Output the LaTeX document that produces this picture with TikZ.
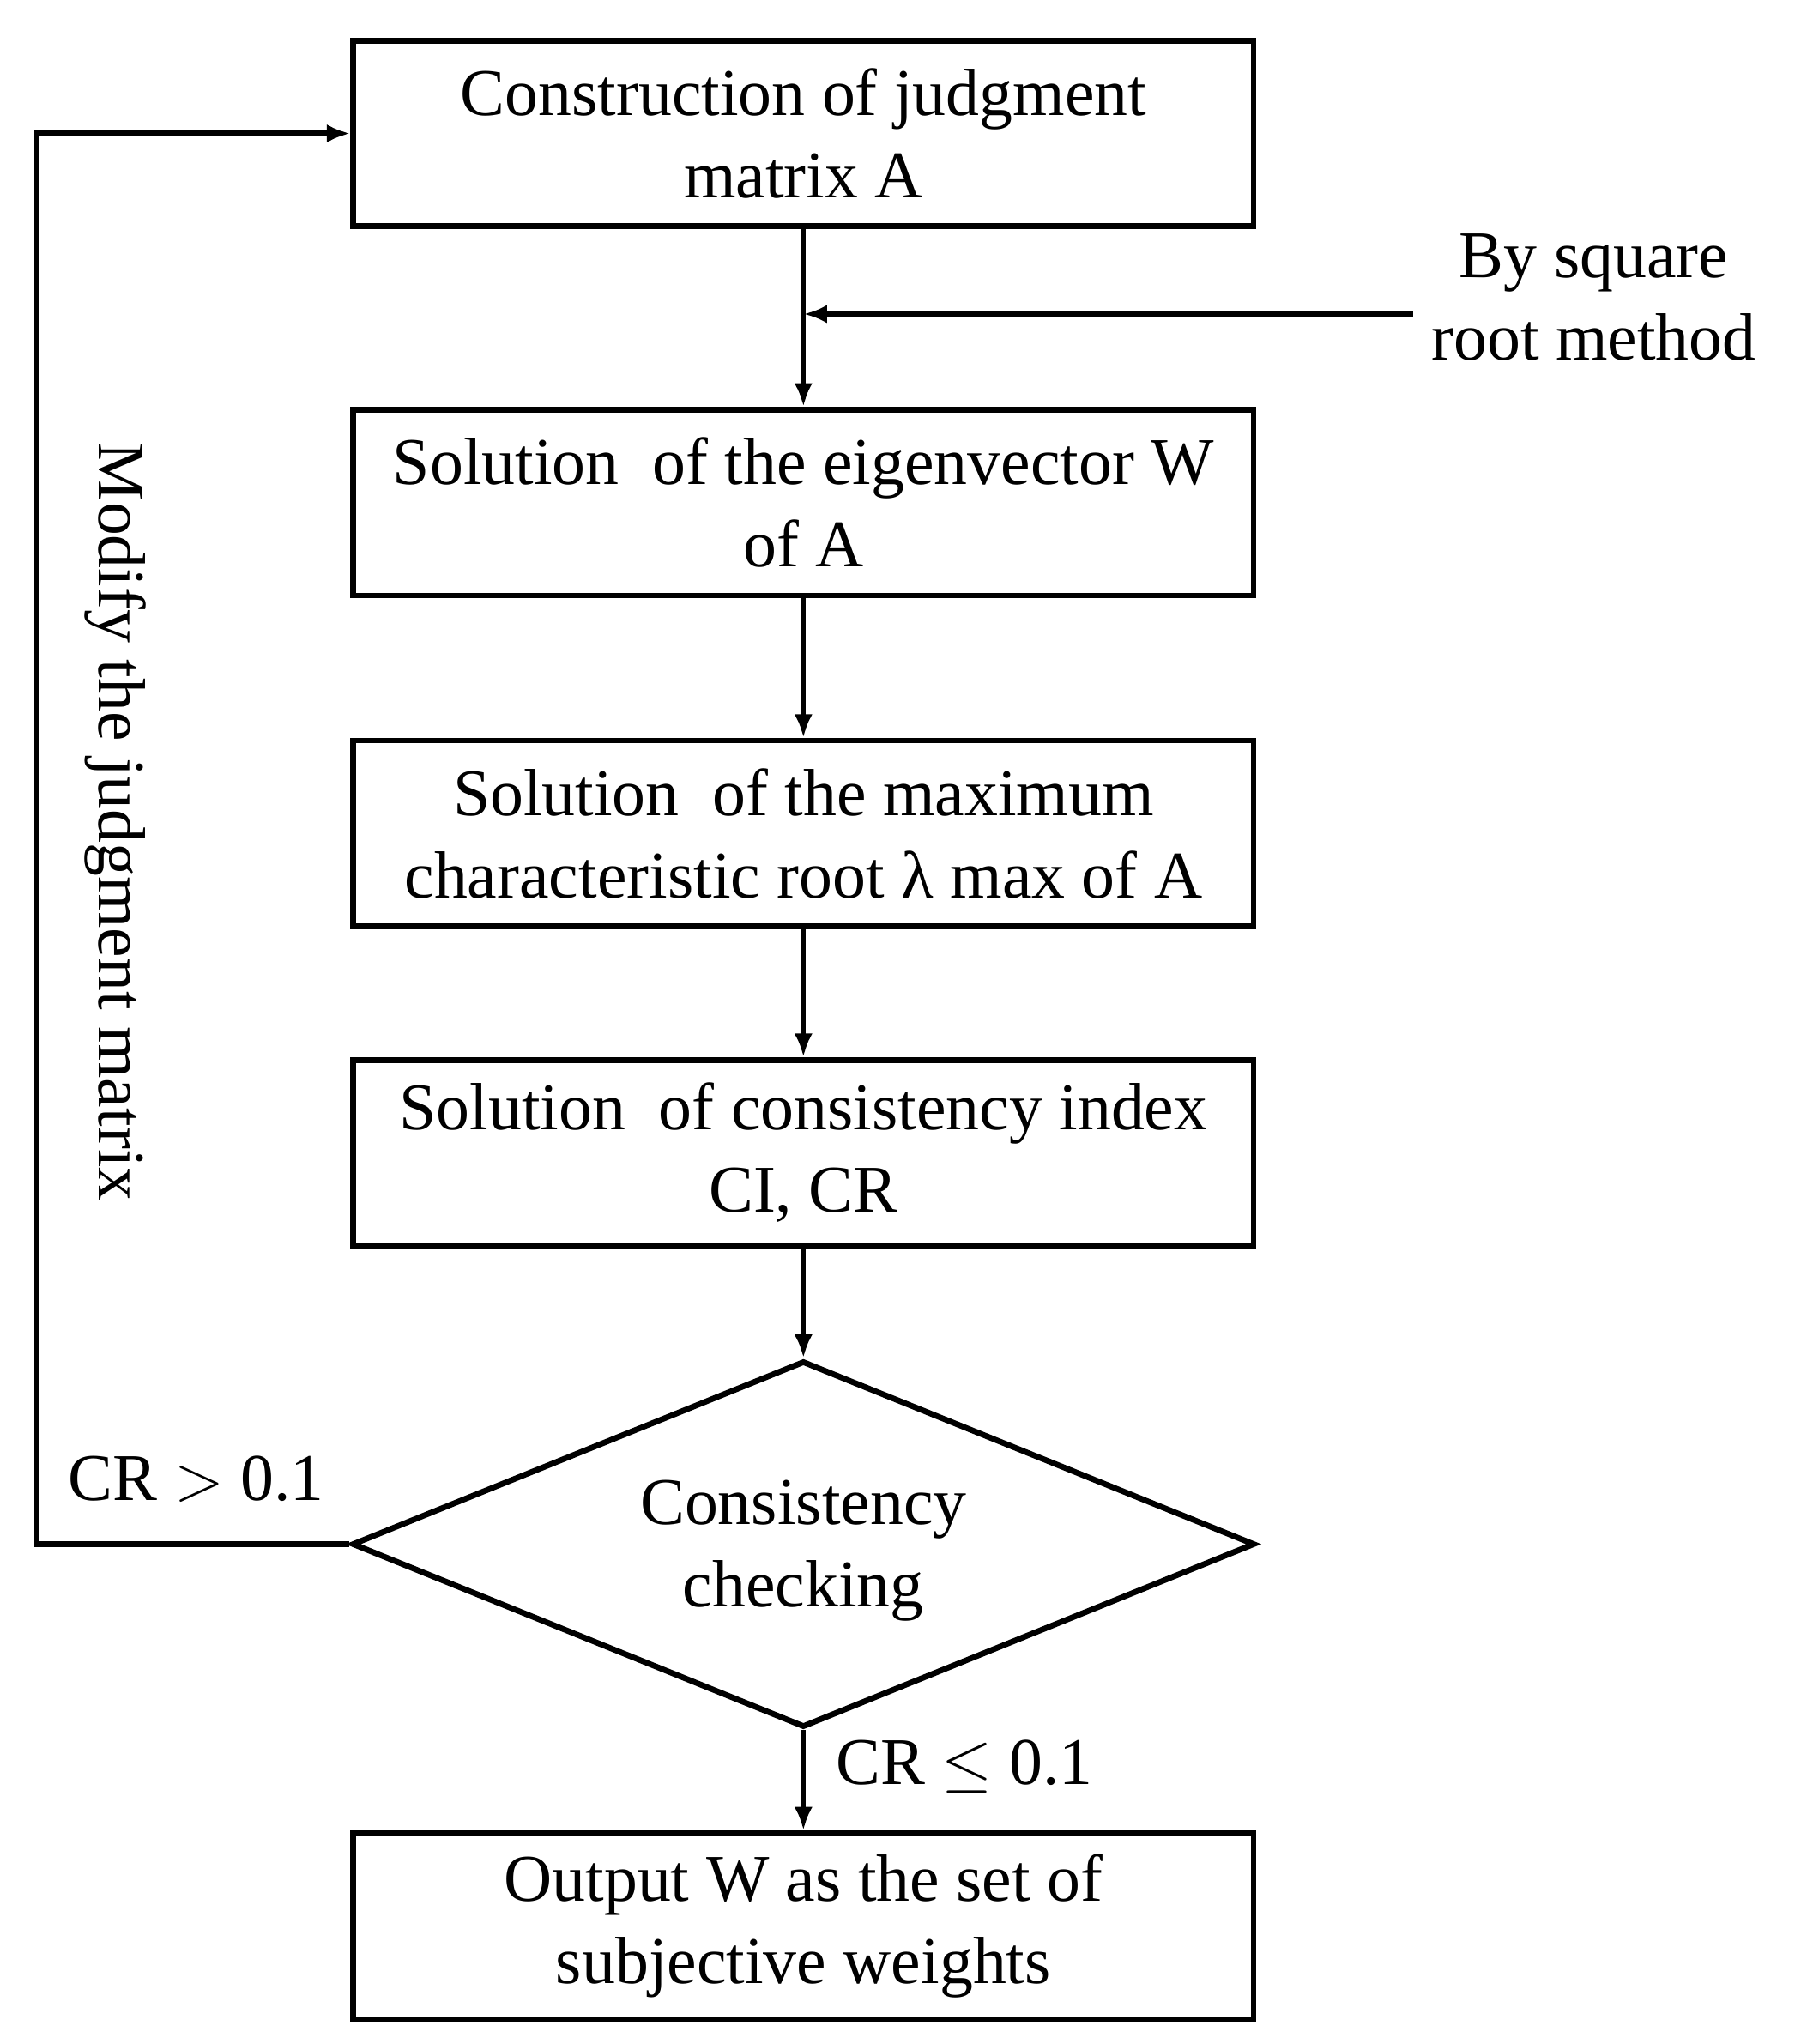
\documentclass[tikz,border=0pt]{standalone}
\usepackage{fontspec}
\setmainfont{Liberation Serif}
\usetikzlibrary{shapes.geometric,arrows.meta}
\begin{document}
\begin{tikzpicture}[x=0.5pt,y=-0.5pt,
  box/.style={draw,line width=2.2pt,minimum width=344pt,minimum height=71pt,align=center,font=\fontsize{25.5}{31.5}\selectfont,inner sep=0pt},
  lab/.style={align=center,font=\fontsize{25.5}{31.5}\selectfont,inner sep=0pt},
  arr/.style={line width=2pt,-{Latex[length=9pt,width=7pt]}}]
\useasboundingbox (0,0) rectangle (1385,1562);
\node[box] (b1) at (614,102) {Construction of judgment\\matrix A};
\node[box] (b2) at (614,384) {Solution\ \ of the eigenvector W\\of A};
\node[box] (b3) at (614,637) {Solution\ \ of the maximum\\characteristic root λ max of A};
\node[box] (b4) at (614,881) {Solution\ \ of consistency index\\CI, CR};
\node[draw,line width=2.2pt,diamond,aspect=2.46,minimum width=345pt,minimum height=140pt,inner sep=0pt] (d) at (614,1180) {};
\node[lab] at (614,1185) {Consistency\\checking};
\node[box] (b5) at (614,1472) {Output W as the set of\\subjective weights};
\coordinate (m) at (614,240);
\coordinate (s) at (1080,240);
\node[lab] (sq) at (1218,227) {By square\\root method};
\draw[line width=2pt] (b1.south) -- (m);
\draw[arr] (m) -- (b2.north);
\draw[arr] (s) -- (m);
\draw[arr] (b2) -- (b3);
\draw[arr] (b3) -- (b4);
\draw[arr] (b4) -- (d.north);
\draw[arr] (d.south) -- (b5);
\coordinate (c1) at (28,1180);
\coordinate (c2) at (28,102);
\draw[arr] (d.west) -- (c1) -- (c2) -- (b1.west);
\node[lab,rotate=-90] (mod) at (88,628) {Modify the judgment matrix};
\node[lab] (gt) at (150,1130) {CR $>$ 0.1};
\node[lab] (le) at (737,1350) {CR $\leq$ 0.1};
\end{tikzpicture}
\end{document}
